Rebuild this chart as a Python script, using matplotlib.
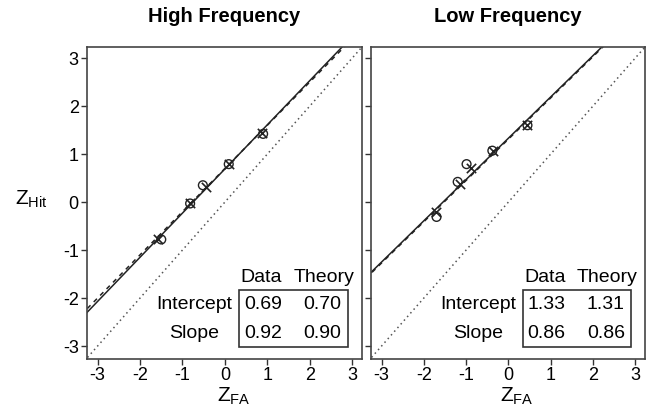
import matplotlib
matplotlib.use("Agg")
import matplotlib.pyplot as plt
import numpy as np
from matplotlib.patches import Rectangle

plt.rcParams['font.family'] = ['Liberation Sans', 'DejaVu Sans']

# ---- data ----
ticks = [-3, -2, -1, 0, 1, 2, 3]
titles = ["High Frequency", "Low Frequency"]

hf_data_x = [-1.50, -0.82, -0.52, 0.09, 0.90]
hf_data_y = [-0.78, -0.03, 0.35, 0.79, 1.42]
hf_theory_x = [-1.58, -0.82, -0.44, 0.09, 0.88]
hf_theory_y = [-0.76, -0.03, 0.32, 0.79, 1.43]

lf_data_x = [-1.70, -1.20, -0.99, -0.38, 0.45]
lf_data_y = [-0.31, 0.42, 0.79, 1.07, 1.60]
lf_theory_x = [-1.72, -1.15, -0.89, -0.36, 0.45]
lf_theory_y = [-0.20, 0.375, 0.70, 1.07, 1.60]

hf_fit = {"Intercept": (0.69, 0.70), "Slope": (0.92, 0.90)}
lf_fit = {"Intercept": (1.33, 1.31), "Slope": (0.86, 0.86)}

fig = plt.figure(figsize=(6.48, 4.12), dpi=100)
W, H = 648, 412

def axes_px(x0, x1, y0, y1):
    return fig.add_axes([x0 / W, 1 - y1 / H, (x1 - x0) / W, (y1 - y0) / H])

ax1 = axes_px(87, 362, 47, 359)
ax2 = axes_px(371, 645, 47, 359)

lim = (-3.25, 3.23)
panels = [
    (ax1, hf_data_x, hf_data_y, hf_theory_x, hf_theory_y, hf_fit, True),
    (ax2, lf_data_x, lf_data_y, lf_theory_x, lf_theory_y, lf_fit, False),
]
dark = '#222222'
for i, (ax, dx, dy, tx, ty, fit, showy) in enumerate(panels):
    ax.set_xlim(lim)
    ax.set_ylim(-3.27, 3.23)
    xs = np.array([-4, 4])
    ax.plot(xs, xs, linestyle=(0, (1, 2.2)), color='#555555', lw=1.1)
    ax.plot(xs, fit["Intercept"][0] + fit["Slope"][0] * xs, color=dark, lw=1.1)
    ax.plot(xs, fit["Intercept"][1] + fit["Slope"][1] * xs, color=dark, lw=1.1,
            linestyle=(0, (3, 3)))
    ax.scatter(dx, dy, s=40, marker='o', facecolors='none', edgecolors=dark, linewidths=1.0, zorder=3)
    ax.scatter(tx, ty, s=45, marker='x', color=dark, linewidths=1.2, zorder=3)
    ax.set_xticks(ticks)
    ax.set_yticks(ticks)
    ax.set_xticklabels([str(t) for t in ticks], fontsize=13)
    if showy:
        ax.set_yticklabels([str(t) for t in ticks], fontsize=13)
    else:
        ax.set_yticklabels([])
    ax.tick_params(direction='out', length=4, width=1, color='#333333', pad=2)
    for s in ax.spines.values():
        s.set_color('#444444')
        s.set_linewidth(1.2)
    ax.set_title(titles[i], fontsize=14.5, fontweight='bold', pad=18)
    ax.set_xlabel(r'$\mathregular{Z_{FA}}$', fontsize=15, labelpad=2)
    ax.xaxis.set_label_coords(0.5 + 9 / 275, -0.085)

    # fit table
    cx = (0.64, 0.857)
    ax.text(cx[0] - 0.005, 0.262, "Data", transform=ax.transAxes, ha='center', va='center', fontsize=14)
    ax.text(cx[1] + 0.005, 0.262, "Theory", transform=ax.transAxes, ha='center', va='center', fontsize=14)
    ax.add_patch(Rectangle((0.553, 0.04), 0.397, 0.18, transform=ax.transAxes,
                           fill=False, edgecolor='#333333', lw=1.2))
    for label, yy in (("Intercept", 0.176), ("Slope", 0.083)):
        ax.text(0.39, yy, label, transform=ax.transAxes, ha='center', va='center', fontsize=14)
        ax.text(cx[0], yy, f"{fit[label][0]:.2f}", transform=ax.transAxes, ha='center', va='center', fontsize=14)
        ax.text(cx[1], yy, f"{fit[label][1]:.2f}", transform=ax.transAxes, ha='center', va='center', fontsize=14)

fig.text(31 / W, 1 - 199 / H, r'$\mathregular{Z_{Hit}}$', fontsize=15, ha='center', va='center')

fig.savefig("out.png", dpi=100)
